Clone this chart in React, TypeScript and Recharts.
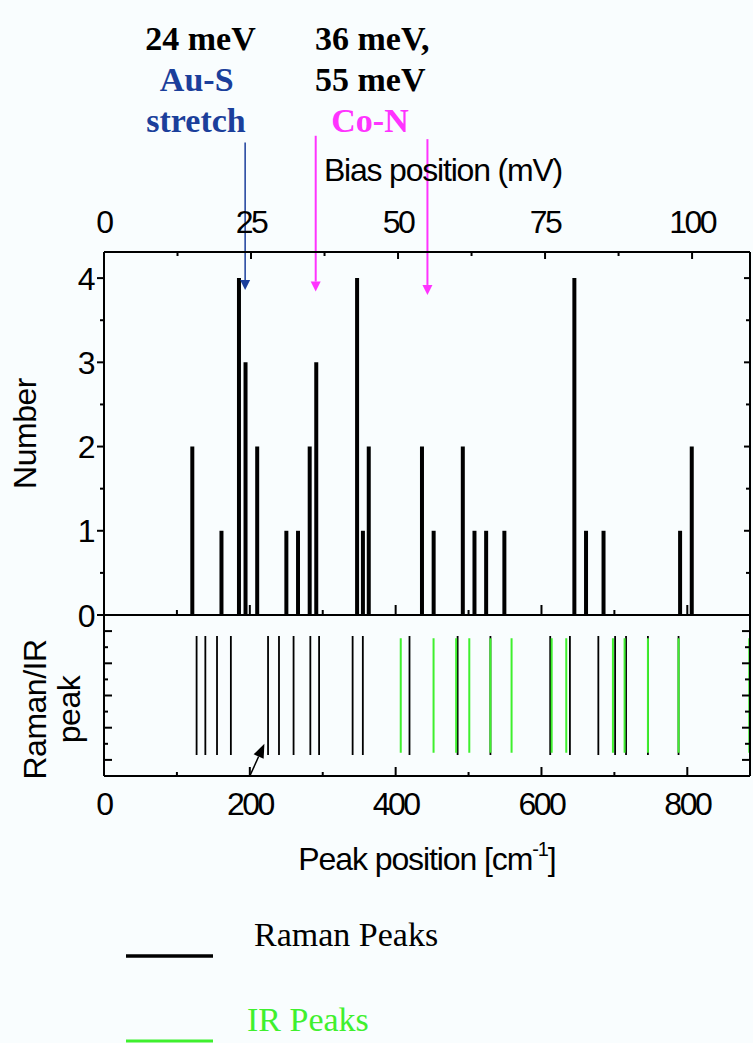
import { ComposedChart, Bar, Line, XAxis, YAxis, ReferenceLine, Label } from 'recharts'

const CM_PER_MEV = 8.0655
const CM_MAX = 886
const MV_MAX = CM_MAX / CM_PER_MEV
const COUNT_MAX = 4.31

// histogram: peak position (cm^-1) and how often it was seen
const histPositions = [121, 161, 185, 194, 210, 250, 266, 282, 291, 347, 355, 363, 436, 452, 492, 508, 524, 549, 645, 661, 685, 790, 806]
const histCounts = [2, 1, 4, 3, 2, 1, 1, 2, 3, 4, 1, 2, 2, 1, 2, 1, 1, 1, 4, 1, 1, 1, 2]

// reference spectra (cm^-1)
const ramanPeaks = [127, 139, 155, 174, 225, 240, 260, 283, 295, 341, 355, 419, 485, 530, 612, 639, 678, 701, 716, 746, 788]
const irPeaks = [407, 452, 483, 501, 530, 559, 614, 634, 698, 714, 746, 788, 885]

// modes marked with arrows (meV)
const modeEnergies = [24, 36, 55]
const modeColors = ['#1b3f9b', '#ff33ff', '#ff33ff']
const arrowTops = [5.61, 5.69, 5.65]
const arrowTips = [3.86, 3.84, 3.8]

const cmTicks = [0, 100, 200, 300, 400, 500, 600, 700, 800]
const mvTicks = [0, 12.5, 25, 37.5, 50, 62.5, 75, 87.5, 100]
const countTicks = [0, 0.5, 1, 1.5, 2, 2.5, 3, 3.5, 4]
const peakTicks = [0.1, 0.2, 0.3, 0.4, 0.5, 0.6, 0.7, 0.8, 0.9]

const GREEN = '#3ff02e'
const SANS = "'Liberation Sans', Arial, sans-serif"
const SERIF = "'Liberation Serif', 'Times New Roman', serif"

const histData = histPositions.map((x, i) => ({ x, mv: x / CM_PER_MEV, n: histCounts[i] }))
const segs = (peaks: number[], lo: number, hi: number) =>
  peaks.flatMap((x) => [{ x, y: lo }, { x, y: hi }, { x, y: null }])
const ramanSegs = segs(ramanPeaks, 0.13, 0.87)
const irSegs = segs(irPeaks, 0.145, 0.855)

const axisLine = { stroke: '#000', strokeWidth: 2 }

type Side = 'top' | 'bottom' | 'left' | 'right'

// axis ticks drawn by hand so they can point into the plot
const makeTick =
  (side: Side, inward: boolean, isMajor: (v: number) => boolean, majorLen: number, minorLen: number, label?: (v: number) => string | null) =>
  (props: any) => {
    const { x, y, payload } = props
    const v = payload.value as number
    const len = isMajor(v) ? majorLen : minorLen
    const s = inward ? -1 : 1
    let x2 = x
    let y2 = y
    if (side === 'top') y2 = y - s * len
    if (side === 'bottom') y2 = y + s * len
    if (side === 'left') x2 = x - s * len
    if (side === 'right') x2 = x + s * len
    const text = label ? label(v) : null
    let tx = x
    let ty = y
    let anchor = 'middle'
    if (side === 'top') ty = y - 19
    if (side === 'bottom') ty = y + 39
    if (side === 'left') {
      tx = x - 11
      ty = y + 11.5
      anchor = 'end'
    }
    return (
      <g>
        <line x1={x} y1={y} x2={x2} y2={y2} stroke="#000" strokeWidth={2} />
        {text !== null && (
          <text x={tx} y={ty} textAnchor={anchor} fontFamily={SANS} fontSize={32} letterSpacing={-2.5} fill="#000">
            {text}
          </text>
        )}
      </g>
    )
  }

const isInt = (v: number) => Math.abs(v - Math.round(v)) < 1e-6
const mvTick = makeTick('top', true, (v) => v % 25 === 0, 7, 4, (v) => (v % 25 === 0 ? String(v) : null))
const cmInnerTick = makeTick('bottom', true, (v) => v % 200 === 0, 10, 5)
const cmTick = makeTick('bottom', true, (v) => v % 200 === 0, 9, 4, (v) => (v % 200 === 0 ? String(v) : null))
const countTickL = makeTick('left', false, isInt, 7, 4, (v) => (isInt(v) ? String(v) : null))
const countTickR = makeTick('right', true, isInt, 6, 4)
const oddTenth = (v: number) => Math.round(v * 10) % 2 === 1
const peakTickL = makeTick('left', true, oddTenth, 8, 4)
const peakTickR = makeTick('right', true, oddTenth, 8, 5)

const arrowShape = (color: string, width: number, headLen: number, headHalf: number) => (props: any) => {
  const { x1, y1, x2, y2 } = props
  const dx = x2 - x1
  const dy = y2 - y1
  const d = Math.hypot(dx, dy) || 1
  const ux = dx / d
  const uy = dy / d
  const bx = x2 - ux * headLen
  const by = y2 - uy * headLen
  const px = -uy * headHalf
  const py = ux * headHalf
  return (
    <g>
      <line x1={x1} y1={y1} x2={bx} y2={by} stroke={color} strokeWidth={width} />
      <polygon points={`${x2},${y2} ${bx + px},${by + py} ${bx - px},${by - py}`} fill={color} />
    </g>
  )
}

const biasLabel = (props: any) => {
  const vb = props.viewBox
  return (
    <text x={vb.x + vb.width / 2 + 16} y={vb.y + vb.height - 71} textAnchor="middle" fontFamily={SANS} fontSize={32} letterSpacing={-1.2} fill="#000">
      Bias position (mV)
    </text>
  )
}

const numberLabel = (props: any) => {
  const vb = props.viewBox
  const cx = vb.x + 36
  const cy = vb.y + vb.height / 2
  return (
    <text x={cx} y={cy} transform={`rotate(-90 ${cx} ${cy})`} textAnchor="middle" fontFamily={SANS} fontSize={32} letterSpacing={-0.5} fill="#000">
      Number
    </text>
  )
}

const ramanLabel = (props: any) => {
  const vb = props.viewBox
  const cx = vb.x + 46
  const cy = vb.y + vb.height / 2 + 14
  return (
    <text x={cx} y={cy} transform={`rotate(-90 ${cx} ${cy})`} textAnchor="middle" fontFamily={SANS} fontSize={32} letterSpacing={-0.5} fill="#000">
      <tspan x={cx} dy={0}>Raman/IR</tspan>
      <tspan x={cx} dy={34}>peak</tspan>
    </text>
  )
}

const peakPosLabel = (props: any) => {
  const vb = props.viewBox
  return (
    <text x={vb.x + vb.width / 2} y={vb.y + 94} textAnchor="middle" fontFamily={SANS} fontSize={32} letterSpacing={-1.1} fill="#000">
      Peak position [cm
      <tspan fontSize={20} dy={-14}>-1</tspan>
      <tspan dy={14}>]</tspan>
    </text>
  )
}

export default function App() {
  return (
    <div style={{ position: 'absolute', left: 0, top: 0, width: 753, height: 1043, background: '#f9fdfe', overflow: 'hidden' }}>
      <div style={{ position: 'absolute', left: 0, top: 0 }}>
        <ComposedChart width={753} height={640} data={histData} margin={{ top: 0, right: 0, bottom: 0, left: 0 }}>
          <XAxis xAxisId="cm" dataKey="x" type="number" domain={[0, CM_MAX]} allowDataOverflow ticks={cmTicks} interval={0} orientation="bottom" height={25} tickSize={0} tickMargin={0} tickLine={false} axisLine={axisLine} tick={cmInnerTick} />
          <XAxis xAxisId="mv" dataKey="mv" type="number" domain={[0, MV_MAX]} allowDataOverflow ticks={mvTicks} interval={0} orientation="top" height={252} tickSize={0} tickMargin={0} tickLine={false} axisLine={axisLine} tick={mvTick}>
            <Label content={biasLabel} />
          </XAxis>
          <YAxis yAxisId="count" type="number" domain={[0, COUNT_MAX]} allowDataOverflow ticks={countTicks} interval={0} width={104} tickSize={0} tickMargin={0} tickLine={false} axisLine={axisLine} tick={countTickL}>
            <Label content={numberLabel} />
          </YAxis>
          <YAxis yAxisId="countR" orientation="right" type="number" domain={[0, COUNT_MAX]} allowDataOverflow ticks={countTicks} interval={0} width={3} tickSize={0} tickMargin={0} tickLine={false} axisLine={axisLine} tick={countTickR} />
          <Bar xAxisId="cm" yAxisId="count" dataKey="n" fill="#000" barSize={4} isAnimationActive={false} />
          {modeEnergies.map((e, i) => (
            <ReferenceLine
              key={e}
              xAxisId="mv"
              yAxisId="count"
              segment={[{ x: e, y: arrowTops[i] }, { x: e, y: arrowTips[i] }]}
              ifOverflow="visible"
              stroke={modeColors[i]}
              shape={arrowShape(modeColors[i], i === 0 ? 1.5 : 2, 10, 5)}
            />
          ))}
        </ComposedChart>
      </div>
      <div style={{ position: 'absolute', left: 0, top: 560 }}>
        <ComposedChart width={753} height={340} margin={{ top: 55, right: 0, bottom: 0, left: 0 }}>
          <XAxis xAxisId="cm" dataKey="x" type="number" domain={[0, CM_MAX]} allowDataOverflow ticks={cmTicks} interval={0} height={124} tickSize={0} tickMargin={0} tickLine={false} axisLine={axisLine} tick={cmTick}>
            <Label content={peakPosLabel} />
          </XAxis>
          <YAxis yAxisId="p" type="number" domain={[0, 1]} allowDataOverflow ticks={peakTicks} interval={0} width={104} tickSize={0} tickMargin={0} tickLine={false} axisLine={axisLine} tick={peakTickL}>
            <Label content={ramanLabel} />
          </YAxis>
          <YAxis yAxisId="pR" orientation="right" type="number" domain={[0, 1]} allowDataOverflow ticks={peakTicks} interval={0} width={3} tickSize={0} tickMargin={0} tickLine={false} axisLine={axisLine} tick={peakTickR} />
          <Line xAxisId="cm" yAxisId="p" data={ramanSegs} dataKey="y" stroke="#000" strokeWidth={1.8} dot={false} activeDot={false} connectNulls={false} isAnimationActive={false} />
          <Line xAxisId="cm" yAxisId="p" data={irSegs} dataKey="y" stroke={GREEN} strokeWidth={2} dot={false} activeDot={false} connectNulls={false} isAnimationActive={false} />
          <ReferenceLine
            xAxisId="cm"
            yAxisId="p"
            segment={[{ x: 200, y: 0 }, { x: 220, y: 0.2 }]}
            ifOverflow="visible"
            stroke="#000"
            shape={arrowShape('#000', 1.5, 14, 5.5)}
          />
        </ComposedChart>
      </div>
      <svg width={753} height={1043} style={{ position: 'absolute', left: 0, top: 0, pointerEvents: 'none' }}>
        <g fontFamily={SERIF} fontWeight="bold" fontSize={34}>
          <text x={200.5} y={49.5} textAnchor="middle" fill="#000">24 meV</text>
          <text x={196.7} y={90.7} textAnchor="middle" fill={modeColors[0]}>Au-S</text>
          <text x={196} y={131.7} textAnchor="middle" fill={modeColors[0]}>stretch</text>
          <text x={315} y={49.5} fill="#000">36 meV,</text>
          <text x={315} y={90.7} fill="#000">55 meV</text>
          <text x={370} y={131.7} textAnchor="middle" fill={modeColors[1]}>Co-N</text>
        </g>
        <line x1={126} y1={956} x2={213} y2={956} stroke="#000" strokeWidth={3.5} />
        <text x={254} y={946} fontFamily={SERIF} fontSize={34} fill="#000">Raman Peaks</text>
        <line x1={126} y1={1041} x2={213} y2={1041} stroke={GREEN} strokeWidth={3} />
        <text x={247} y={1031} fontFamily={SERIF} fontSize={34} fill={GREEN}>IR Peaks</text>
      </svg>
    </div>
  )
}
